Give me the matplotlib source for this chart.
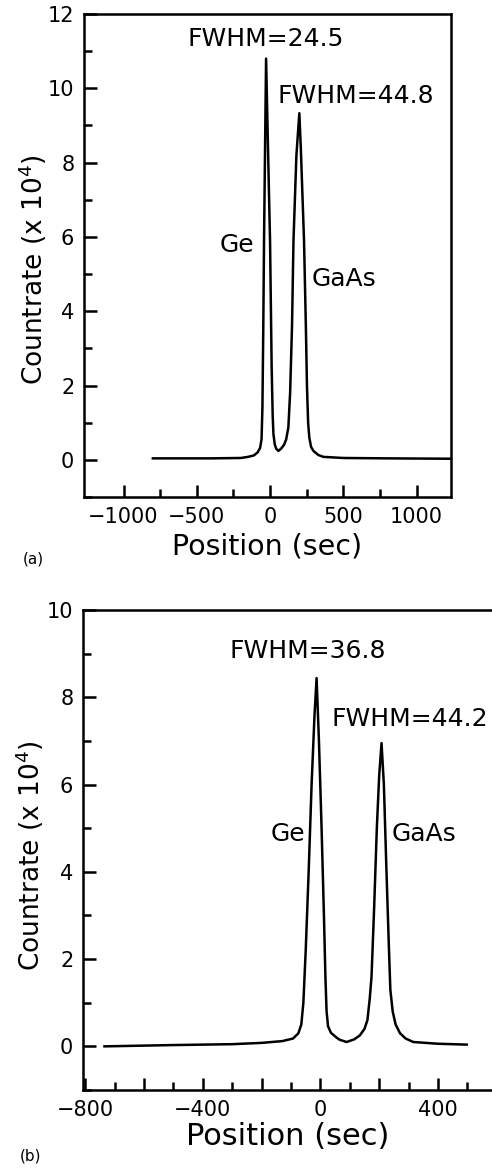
import matplotlib
matplotlib.use("Agg")
import matplotlib.pyplot as plt
from matplotlib.ticker import MultipleLocator, FixedLocator, FuncFormatter

# panel (a): position (sec) vs countrate (x10^4)
pos_a = [-800, -400, -200, -150, -110, -85, -68, -58, -52, -46, -41, -34, -27,
         -14, 0, 11, 18, 23, 32, 42, 57, 75, 95, 110, 125, 137, 150, 160, 180,
         200, 210, 232, 245, 252, 260, 268, 280, 296, 330, 364, 500, 800, 1230]
rate_a = [0.04, 0.04, 0.05, 0.08, 0.12, 0.2, 0.32, 0.55, 1.4, 3.6, 5.9, 8.4, 10.8,
          8.4, 5.9, 2.5, 1.2, 0.7, 0.42, 0.3, 0.24, 0.3, 0.4, 0.55, 0.87, 1.8, 3.6, 5.9, 8.2,
          9.33, 8.4, 5.9, 3.5, 2.0, 1.0, 0.6, 0.35, 0.24, 0.13, 0.08, 0.05, 0.04, 0.03]

# panel (b)
pos_b = [-735, -500, -300, -200, -130, -93, -75, -65, -58, -50, -40, -30, -20, -13,
         -5, 4, 12, 17, 21, 26, 36, 55, 66, 89, 115, 134, 150, 160, 168, 174, 183,
         192, 200, 208, 216, 224, 232, 238, 246, 256, 271, 290, 316, 400, 498]
rate_b = [0.0, 0.03, 0.05, 0.08, 0.12, 0.18, 0.3, 0.5, 1.0, 2.2, 4.0, 6.0, 7.6, 8.44,
          7.0, 5.0, 3.0, 1.6, 0.8, 0.46, 0.31, 0.2, 0.15, 0.1, 0.16, 0.25, 0.4, 0.6, 1.1, 1.6, 3.2,
          5.0, 6.2, 6.95, 6.0, 4.2, 2.5, 1.3, 0.8, 0.5, 0.3, 0.18, 0.1, 0.06, 0.04]

labels_a = [("FWHM=24.5", -27, 11.32), ("FWHM=44.8", 587, 9.78),
            ("Ge", -225, 5.77), ("GaAs", 505, 4.88)]
labels_b = [("FWHM=36.8", -43, 9.06), ("FWHM=44.2", 305, 7.5),
            ("Ge", -111, 4.87), ("GaAs", 352, 4.87)]

plt.rcParams['font.family'] = ['DejaVu Sans']
plt.rcParams['mathtext.fontset'] = 'dejavusans'

fig = plt.figure(figsize=(4.92, 11.69), dpi=100)
ax_a = fig.add_axes([0.1707, 0.57485, 0.7459, 0.41317])
ax_b = fig.add_axes([0.1687, 0.06758, 0.8313, 0.41061])


def style_axes(ax):
    for s in ax.spines.values():
        s.set_linewidth(1.8)
    ax.tick_params(which='both', direction='in', top=False, right=False,
                   width=1.8, labelsize=15, pad=7)
    ax.tick_params(which='major', length=9)
    ax.tick_params(which='minor', length=6)
    ax.yaxis.set_major_locator(MultipleLocator(2))
    ax.yaxis.set_minor_locator(MultipleLocator(1))
    ax.set_ylabel(r'Countrate (x 10$^4$)', fontsize=19)


# (a)
ax_a.plot(pos_a, rate_a, color='black', lw=1.8)
ax_a.set_xlim(-1270, 1235)
ax_a.set_ylim(-1, 12)
style_axes(ax_a)
ax_a.yaxis.set_label_coords(-0.095, 0.47)
ax_a.xaxis.set_major_locator(MultipleLocator(500))
ax_a.xaxis.set_minor_locator(FixedLocator([-750, -250, 250, 750]))
ax_a.set_xlabel('Position (sec)', fontsize=20.5, labelpad=4)
for txt, x, y in labels_a:
    ax_a.text(x, y, txt, fontsize=18, ha='center', va='center')
fig.text(0.067, 1 - 559 / 1169, '(a)', fontsize=11, ha='center', va='center')

# (b)
ax_b.plot(pos_b, rate_b, color='black', lw=1.8)
ax_b.set_xlim(-808, 584)
ax_b.set_ylim(-1, 10)
style_axes(ax_b)
ax_b.yaxis.set_label_coords(-0.09, 0.4875)
ax_b.spines['right'].set_visible(False)
ax_b.xaxis.set_major_locator(MultipleLocator(200))
ax_b.xaxis.set_minor_locator(MultipleLocator(100))
ax_b.xaxis.set_major_formatter(
    FuncFormatter(lambda v, p: '' if round(v) % 400 else f'{v:.0f}'.replace('-', '\u2212')))
ax_b.set_xlabel('Position (sec)', fontsize=22, labelpad=2)
for txt, x, y in labels_b:
    ax_b.text(x, y, txt, fontsize=18, ha='center', va='center')
fig.text(0.061, 1 - 1156 / 1169, '(b)', fontsize=11, ha='center', va='center')

fig.savefig('out.png', dpi=100)
